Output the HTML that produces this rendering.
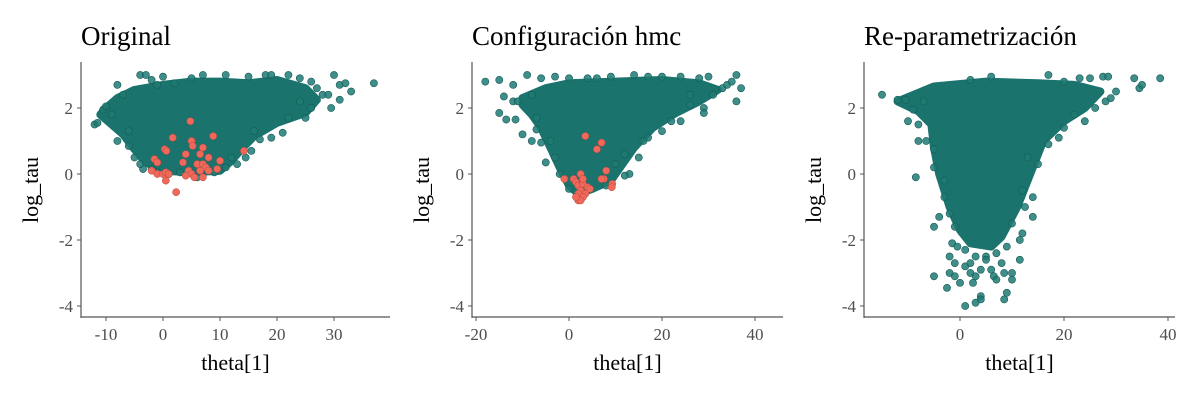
<!DOCTYPE html>
<html><head><meta charset="utf-8">
<style>
body{margin:0;background:#fff;}
svg text{font-family:"Liberation Serif",serif;}
.tick{font-size:17px;fill:#4d4d4d;}
.lab{font-size:22px;fill:#000;}
.title{font-size:27px;fill:#000;}
</style></head>
<body>
<svg id="chart" width="1200" height="400"></svg>
<script>
// ----- data (theta[1], log_tau) -----
const p1Core = [[-10,2.0],[-8,2.3],[-5,2.55],[0,2.7],[5,2.8],[10,2.8],[15,2.75],[20,2.85],[25,2.6],[27,2.25],[25,1.85],[20,1.55],[16,1.15],[14,0.8],[12,0.4],[10,0.1],[5,0.05],[0,0.1],[-3,0.35],[-5,0.75],[-7,1.2],[-9,1.5],[-11,1.8]];
const p1Teal = [[-12,1.5],[-11.5,1.55],[-10.5,1.95],[-10,2.05],[-8,1.0],[-8,2.7],[-6,0.85],[-5,0.5],[-4,3.0],[-3,3.0],[0,2.95],[-1,2.7],[2,2.75],[7,3.0],[11,3.0],[18,3.0],[19,3.0],[22,3.0],[24,2.9],[26,2.8],[27,2.6],[28,2.4],[29,2.4],[30,3.0],[31,2.7],[31,2.25],[32,2.75],[33,2.5],[37,2.75],[29.5,2.0],[26,2.0],[25,1.7],[21,1.25],[19,1.1],[17,1.05],[15.5,0.7],[14.5,0.5],[13,0.3],[-3.5,0.15],[-1,0.05],[1,0.0],[6,-0.1],[9,0.05],[-7,2.4],[-6,1.3],[-9,1.8],[-4,0.3],[-2,0.15],[3,0.05],[11,0.2],[12,0.5],[16,1.3],[22,1.7],[24,2.2],[15,2.95],[5,2.9],[-2,2.85]];
const p1Red = [[2.3,-0.55],[4.8,1.6],[5,1.0],[5.2,0.85],[8.8,1.15],[1.7,1.1],[0.3,0.75],[0.6,0.7],[-1.5,0.45],[-1,0.35],[-2,0.1],[-1,0.0],[0,0.0],[0.5,0.05],[1,0.0],[0.5,-0.2],[4,0.6],[6.5,0.6],[7,0.8],[8,0.5],[6,0.3],[7,0.3],[7.5,0.2],[6.5,0.1],[4.5,0.1],[5,0.0],[4,-0.05],[5.5,-0.1],[7,-0.1],[8,0.1],[9.5,0.15],[10,0.4],[14.2,0.7],[3.5,0.35]];

const p2Core = [[-10,2.3],[-5,2.6],[0,2.75],[10,2.8],[20,2.85],[28,2.75],[32,2.55],[28,2.2],[23,1.85],[18,1.4],[14,0.8],[11,0.2],[9,-0.2],[5,-0.45],[2,-0.6],[0,-0.35],[-2,0.2],[-4,0.8],[-6,1.4],[-8,1.8],[-10,2.1]];
const p2Teal = [[-18,2.8],[-15,2.85],[-12,2.7],[-9,3.0],[-14,2.35],[-12,2.2],[-11,2.2],[-15,1.85],[-13.5,1.65],[-11.5,1.65],[-10,1.2],[-8,1.0],[-7,1.35],[-6,0.95],[-5,0.35],[-6,2.9],[-3,2.95],[0,2.9],[4,2.9],[9,2.95],[14,3.0],[17,2.95],[24,2.95],[28,2.9],[30,2.95],[33,2.6],[34,2.7],[35,2.8],[36,3.0],[37,2.6],[36,2.2],[31,2.4],[29,2.0],[29,1.85],[26,2.1],[24,1.6],[20,1.3],[17,1.1],[15,0.5],[13,0.0],[12,-0.05],[8,-0.35],[0,-0.45],[-3,0.5],[-8,2.4],[-7,1.7],[-4,1.0],[-2,0.0],[10,0.3],[12,0.6],[16,1.0],[22,1.6],[26,2.4],[20,2.95],[6,2.9]];
const p2Red = [[3.5,1.15],[6,0.75],[7,0.95],[8,0.1],[7.5,-0.15],[7,-0.15],[9.3,-0.3],[9.2,-0.4],[-1,-0.15],[1,-0.15],[1.5,-0.25],[2,-0.35],[3,-0.3],[4,-0.4],[2.5,-0.5],[3.5,-0.6],[2,-0.6],[3,-0.7],[2,-0.8],[2.5,-0.8],[1.5,-0.7],[4.5,-0.45],[2.5,0.0],[3,-0.15]];

const p3Core = [[-12,2.2],[-5,2.65],[5,2.8],[15,2.75],[22,2.7],[27,2.5],[24,2.0],[20,1.6],[16,1.0],[13.5,0.0],[11,-1.0],[8,-1.9],[6,-2.2],[2,-2.1],[0,-1.7],[-2,-1.0],[-4,0.0],[-5,0.8],[-5.5,1.5],[-8,1.9]];
const p3Teal = [[-15,2.4],[-12,2.25],[-10.5,2.25],[-9,1.95],[-10,1.6],[-8,1.5],[-7,2.2],[-6.5,1.0],[-8,1.0],[-5,0.75],[-5,0.2],[-8.5,-0.1],[-3,-0.7],[-4,-1.3],[-5,-1.6],[-2,-1.2],[-1,-1.6],[-1.5,-2.1],[-2,-2.5],[-1,-2.7],[-2,-3.0],[-1,-3.1],[-5,-3.1],[-2.5,-3.45],[0,-3.3],[1,-2.8],[2,-3.0],[2.5,-3.3],[3,-3.1],[4,-3.7],[4,-3.8],[3,-3.9],[1,-4.0],[5,-2.5],[6,-2.9],[6.5,-3.1],[8,-2.7],[8.5,-3.0],[10,-3.0],[10,-3.2],[9,-3.6],[8.5,-3.8],[11.5,-2.6],[11.5,-2.0],[12,-1.8],[14,-1.3],[12,-0.5],[14,-0.7],[15,0.3],[17,0.9],[19,1.1],[20,1.4],[22,1.8],[24,1.6],[26,2.0],[28,2.2],[29,2.3],[30,2.5],[27.5,2.95],[28.5,2.95],[33.5,2.9],[34.5,2.6],[35,2.7],[38.5,2.9],[2,2.85],[6,2.95],[17,3.0],[20,2.8],[23,2.9],[25,2.9],[1,-2.3],[3,-2.5],[5,-2.6],[7,-2.4],[9,-2.2],[4,-2.9],[7,-3.2],[2,-2.7],[-0.5,-2.2],[10,-1.5],[12.5,-1.0],[13,0.5],[-3,-0.2]];

// ----- layout -----
const panels = [
  {name:'original', title:'Original', left:81, right:390, x0v:0, x0:163, ppu:5.7, xticks:[-10,0,10,20,30], core:p1Core, teal:p1Teal, red:p1Red},
  {name:'configuracion-hmc', title:'Configuración hmc', left:472, right:783, x0v:0, x0:569, ppu:4.65, xticks:[-20,0,20,40], core:p2Core, teal:p2Teal, red:p2Red},
  {name:'re-parametrizacion', title:'Re-parametrización', left:864, right:1175, x0v:0, x0:960, ppu:5.2, xticks:[0,20,40], core:p3Core, teal:p3Teal, red:[]}
];
const yticks = [2,0,-2,-4];
const NS = 'http://www.w3.org/2000/svg';
const svg = document.getElementById('chart');
function mk(tag, attrs, parent){const e=document.createElementNS(NS,tag);for(const k in attrs)e.setAttribute(k,attrs[k]);(parent||svg).appendChild(e);return e;}
const yScale = v => 174 - v*33;

panels.forEach(p=>{
  const xs = v => p.x0 + (v - p.x0v)*p.ppu;
  const g = mk('g',{});
  
  
  const t = mk('text',{x:p.left,y:45,class:'title'},g); t.textContent=p.title;
  
  
  const pts = p.core.map(d=>xs(d[0]).toFixed(1)+','+yScale(d[1]).toFixed(1)).join(' ');
  const poly = mk('polygon',{points:pts,fill:'#1b736d',stroke:'#1b736d','stroke-width':8,'stroke-linejoin':'round'},g);
  
  
  p.teal.forEach(d=>{
    const c = mk('circle',{cx:xs(d[0]),cy:yScale(d[1]),r:3.6,fill:'#1f7a74','fill-opacity':0.85,stroke:'#155c57','stroke-width':0.6},g);
    
    
  });
  p.red.forEach(d=>{
    const c = mk('circle',{cx:xs(d[0]),cy:yScale(d[1]),r:3.6,fill:'#f0685a',stroke:'#b8483e','stroke-width':0.5},g);
    
    
  });
  const ya = mk('line',{x1:p.left,y1:62,x2:p.left,y2:318,stroke:'#555','stroke-width':1.2},g);
  
  
  const xa = mk('line',{x1:p.left,y1:317,x2:p.right,y2:317,stroke:'#555','stroke-width':1.2},g);
  
  
  yticks.forEach(v=>{
    mk('line',{x1:p.left-4,y1:yScale(v),x2:p.left,y2:yScale(v),stroke:'#555'},g);
    const tt = mk('text',{x:p.left-8,y:yScale(v)+6,'text-anchor':'end',class:'tick'},g); tt.textContent=String(v);
    
    
  });
  p.xticks.forEach(v=>{
    mk('line',{x1:xs(v),y1:317,x2:xs(v),y2:321,stroke:'#555'},g);
    const tt = mk('text',{x:xs(v),y:340,'text-anchor':'middle',class:'tick'},g); tt.textContent=String(v);
    
    
  });
  const xl = mk('text',{x:(p.left+p.right)/2,y:370,'text-anchor':'middle',class:'lab'},g); xl.textContent='theta[1]';
  
  
  const yl = mk('text',{x:0,y:0,'text-anchor':'middle',class:'lab',transform:'translate('+(p.left-43)+',190) rotate(-90)'},g); yl.textContent='log_tau';
  
  
});
</script>
</body></html>
